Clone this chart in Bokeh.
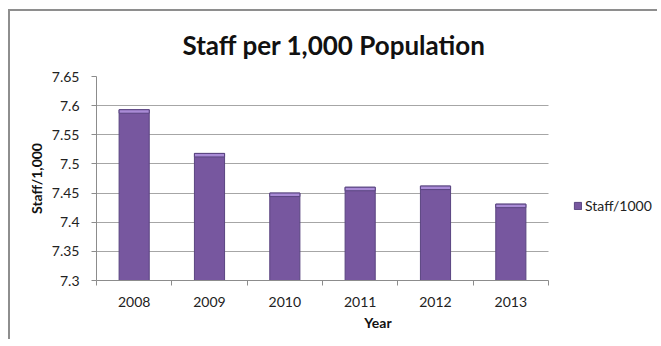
from bokeh.plotting import figure
from bokeh.models import (ColumnDataSource, FixedTicker, CustomJSTickFormatter, Range1d,
                          Legend, LegendItem, Title)
from bokeh.embed import file_html
from bokeh.resources import INLINE

years = ["2008", "2009", "2010", "2011", "2012", "2013"]
staff_per_1000 = [7.593, 7.518, 7.450, 7.460, 7.462, 7.431]
y_ticks = [7.3, 7.35, 7.4, 7.45, 7.5, 7.55, 7.6, 7.65]
series_name = "Staff/1000"

FONT = "Lato"
n = len(years)
idx = list(range(n))
src = ColumnDataSource(dict(x=idx, top=staff_per_1000,
                            bev=[v - 0.006 for v in staff_per_1000]))

W, H = 649, 330
MBL, MBT, MBB, MBR = 86, 65, 61, 0
frame_w = W - MBL - MBR
plot_w = 452  # pixel width of the category area
x_end = -0.5 + n * frame_w / plot_w

p = figure(width=W, height=H, output_backend="svg", toolbar_location=None,
           x_range=Range1d(-0.5, x_end), y_range=Range1d(7.3, 7.65),
           min_border_left=MBL, min_border_right=MBR, min_border_top=MBT, min_border_bottom=MBB,
           styles={"margin-left": "8px", "margin-top": "9px",
                   "border-top": "2px solid #8e8e8e", "border-left": "2px solid #8e8e8e"})
p.outline_line_color = None
p.background_fill_color = "white"

bars = p.vbar(x="x", top="top", bottom=7.3, width=0.4, source=src,
              fill_color="#77579f", line_color="#5a4580", line_width=1)
p.vbar(x="x", top="top", bottom="bev", width=0.4, source=src,
       fill_color="#a98bd6", line_color="#5a4580", line_width=1)

# y axis
p.yaxis.ticker = FixedTicker(ticks=y_ticks)
p.yaxis.formatter = CustomJSTickFormatter(code="return String(parseFloat(tick.toFixed(2)));")
p.yaxis.axis_line_color = "#8c8c8c"
p.yaxis.major_tick_line_color = "#8c8c8c"
p.yaxis.major_tick_out = 5
p.yaxis.major_tick_in = 0
p.yaxis.minor_tick_line_color = None
p.yaxis.major_label_standoff = 12
p.yaxis.major_label_text_font = FONT
p.yaxis.major_label_text_font_size = "14px"
p.yaxis.major_label_text_color = "#222222"
p.yaxis.axis_label = "Staff/1,000"
p.yaxis.axis_label_text_font = FONT
p.yaxis.axis_label_text_font_style = "bold"
p.yaxis.axis_label_text_font_size = "14px"
p.yaxis.axis_label_text_color = "#111111"
p.yaxis.axis_label_standoff = 4

# x axis
p.xaxis.ticker = FixedTicker(ticks=idx, minor_ticks=[i - 0.5 for i in range(n + 1)])
p.xaxis.bounds = (-0.5, n - 0.5)
p.xaxis.major_label_overrides = {i: y for i, y in zip(idx, years)}
p.xaxis.axis_line_color = "#8c8c8c"
p.xaxis.major_tick_line_color = None
p.xaxis.major_tick_out = 0
p.xaxis.major_tick_in = 0
p.xaxis.minor_tick_line_color = "#8c8c8c"
p.xaxis.minor_tick_out = 5
p.xaxis.minor_tick_in = 0
p.xaxis.major_label_standoff = 11
p.xaxis.major_label_text_font = FONT
p.xaxis.major_label_text_font_size = "14px"
p.xaxis.major_label_text_color = "#222222"
p.xaxis.axis_label = "Year"
p.xaxis.axis_label_text_font = FONT
p.xaxis.axis_label_text_font_style = "bold"
p.xaxis.axis_label_text_font_size = "14px"
p.xaxis.axis_label_text_color = "#111111"
p.xaxis.axis_label_standoff = 4

p.xgrid.grid_line_color = None
p.ygrid.ticker = FixedTicker(ticks=y_ticks)
p.ygrid.cross_bounds = (-0.5, n - 0.5)
p.ygrid.grid_line_color = "#a6a6a6"
p.ygrid.grid_line_width = 1

title = Title(text="Staff per 1,000 Population", text_font=FONT, text_font_style="bold",
              text_font_size="26px", text_color="#111111", align="left", offset=86,
              standoff=31)
p.add_layout(title, "above")

legend = Legend(items=[LegendItem(label=series_name, renderers=[bars])],
                location=(477, 66), orientation="vertical",
                glyph_width=9, glyph_height=9, label_standoff=3, padding=0, margin=0,
                border_line_color=None, background_fill_alpha=0,
                label_text_font=FONT, label_text_font_size="14px", label_text_color="#222222")
p.add_layout(legend, "center")

open("out.html", "w").write(file_html(p, INLINE))
